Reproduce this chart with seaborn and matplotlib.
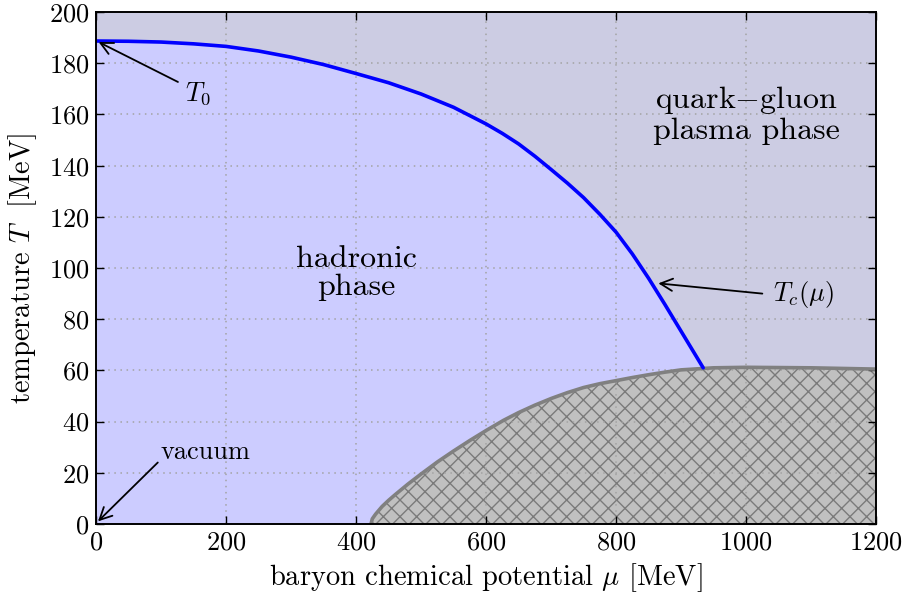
import matplotlib
matplotlib.use("Agg")
import matplotlib.pyplot as plt
import pandas as pd
import seaborn as sns

# Critical line T_c(mu) of the hadron / quark-gluon plasma transition
mu_crit = [0, 50, 100, 150, 200, 250, 300, 350, 400, 450, 500, 550, 600,
           625, 650, 675, 700, 725, 750, 775, 800, 825, 850, 875, 900, 934]
T_crit = [188.7, 188.6, 188.3, 187.6, 186.6, 184.8, 182.4, 179.5, 176.0,
          172.4, 168.0, 162.8, 156.3, 152.6, 148.5, 143.7, 138.5, 133.2,
          127.5, 121.0, 114.0, 105.5, 96.0, 85.8, 75.3, 61.0]

# Boundary of the excluded (hatched) nuclear-matter region
mu_bound = [423, 425, 430, 440, 450, 460, 480, 500, 525, 550, 575, 600, 627,
            650, 675, 700, 725, 750, 775, 800, 825, 850, 875, 900, 950, 1000,
            1100, 1200]
T_bound = [0, 2.0, 3.8, 6.8, 9.2, 11.4, 15.6, 19.5, 24.2, 28.5, 32.6, 36.5,
           40.5, 43.5, 46.4, 49.0, 51.3, 53.3, 54.8, 56.0, 57.2, 58.3, 59.3,
           60.2, 61.0, 61.2, 61.0, 60.5]

x_ticks = [0, 200, 400, 600, 800, 1000, 1200]
y_ticks = [0, 20, 40, 60, 80, 100, 120, 140, 160, 180, 200]

sns.set_style("ticks")
plt.rcParams.update({
    "font.family": ["cmr10", "DejaVu Serif"],
    "mathtext.fontset": "cm",
    "axes.unicode_minus": False,
    "axes.formatter.use_mathtext": True,
    "hatch.linewidth": 1.0,
    "text.color": "black",
    "axes.labelcolor": "black",
    "xtick.color": "black",
    "ytick.color": "black",
    "axes.edgecolor": "black",
})

fig = plt.figure(figsize=(9.06, 6.05), dpi=100)
ax = fig.add_axes([0.106, 0.134, 0.861, 0.846])

qgp_color = (0.80, 0.80, 0.89)
had_color = (0.80, 0.80, 1.00)
ax.set_facecolor(qgp_color)

crit = pd.DataFrame({"mu": mu_crit, "T": T_crit})
bound = pd.DataFrame({"mu": mu_bound, "T": T_bound})

# hadronic phase below the critical line
ax.fill_between(crit["mu"], 0, crit["T"], color=had_color, lw=0, zorder=1)

# hatched region
ax.fill_between(bound["mu"], 0, bound["T"], facecolor="#c0c0c0",
                edgecolor="#7a7a7a", hatch="xx", lw=0, zorder=1.2)
sns.lineplot(data=bound, x="mu", y="T", color="#808080", lw=2.6, ax=ax,
             sort=False, zorder=3)

# critical line
sns.lineplot(data=crit, x="mu", y="T", color="blue", lw=2.6, ax=ax,
             sort=False, zorder=4)

# grid and ticks drawn above the filled regions
ax.grid(True, color="0.64", linestyle=(0, (1, 3)), linewidth=1.1)
ax.xaxis.set_zorder(1.5)
ax.yaxis.set_zorder(1.5)

ax.set_xlim(0, 1200)
ax.set_ylim(0, 200)
ax.set_xticks(x_ticks)
ax.set_yticks(y_ticks)
ax.tick_params(direction="in", top=True, right=True, length=6, width=1.0,
               labelsize=19, pad=5)
for s in ax.spines.values():
    s.set_linewidth(1.4)
    s.set_zorder(6)

ax.set_xlabel(r"baryon chemical potential $\mu$ [MeV]", fontsize=20.5, labelpad=5)
ax.set_ylabel(r"temperature $T$  [MeV]", fontsize=20.5, labelpad=7)

arrow = dict(arrowstyle="->", color="black", lw=1.3, mutation_scale=22,
             shrinkA=0, shrinkB=0)

ax.text(400, 98, "hadronic\nphase", ha="center", va="center", fontsize=23,
        linespacing=1.05, zorder=5)
ax.text(1000, 160, "quark$-$gluon\nplasma phase", ha="center", va="center",
        fontsize=23, linespacing=1.05, zorder=5)

ax.annotate("", xy=(4, 188.3), xytext=(126, 172.7), arrowprops=arrow, zorder=5)
ax.text(137, 168, r"$T_0$", fontsize=19, ha="left", va="center", zorder=5)

ax.annotate("", xy=(865, 94), xytext=(1025, 90), arrowprops=arrow, zorder=5)
ax.text(1042, 89.5, r"$T_c(\mu)$", fontsize=19, ha="left", va="center", zorder=5)

ax.annotate("", xy=(3, 1), xytext=(95, 24), arrowprops=arrow, zorder=5)
ax.text(100, 23.5, "vacuum", fontsize=19, ha="left", va="bottom", zorder=5)

fig.savefig("out.png", dpi=100)
